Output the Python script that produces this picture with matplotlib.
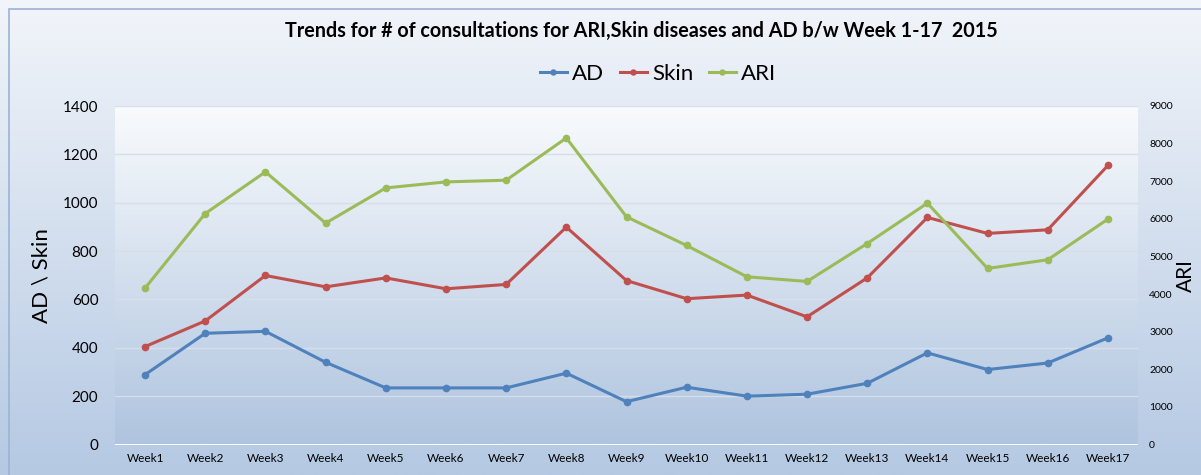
import matplotlib.pyplot as plt
import numpy as np
from matplotlib.colors import LinearSegmentedColormap
from matplotlib.patches import Rectangle

weeks = ["Week%d" % i for i in range(1, 18)]
ad = [289, 460, 468, 340, 234, 234, 234, 295, 177, 237, 200, 208, 253, 379, 310, 337, 441]
skin = [405, 511, 699, 652, 689, 644, 662, 899, 678, 603, 618, 528, 689, 939, 873, 888, 1154]
ari = [4160, 6141, 7248, 5885, 6822, 6982, 7027, 8150, 6053, 5291, 4460, 4335, 5344, 6417, 4681, 4912, 5992]

plt.rcParams['font.family'] = ['Lato', 'DejaVu Sans']

fig = plt.figure(figsize=(12.01, 4.75), dpi=100)

# outer chart background, light at top going to blue at the bottom
bg = fig.add_axes([0, 0, 1, 1], zorder=-5)
outer = LinearSegmentedColormap.from_list('outer', ['#f2f5fa', '#b5c9e3'])
bg.imshow(np.linspace(0, 1, 256).reshape(-1, 1), cmap=outer, aspect='auto',
          extent=[0, 1, 0, 1])
bg.add_patch(Rectangle((9 / 1201, -0.1), 1.2, 1 - 9 / 475 + 0.1, fill=False,
                       edgecolor='#9bb3d6', linewidth=1.2, transform=bg.transAxes))
bg.set_xlim(0, 1)
bg.set_ylim(0, 1)
bg.axis('off')

ax = fig.add_axes([115 / 1201, 1 - 444.5 / 475, (1138 - 115) / 1201, (444.5 - 106) / 475])
x = np.arange(len(weeks))

inner = LinearSegmentedColormap.from_list('inner', ['#f9fbfd', '#afc4df'])
ax.imshow(np.linspace(0, 1, 256).reshape(-1, 1), cmap=inner, aspect='auto',
          extent=[-0.5, len(weeks) - 0.5, 0, 1400], zorder=0)

ax.set_xlim(-0.5, len(weeks) - 0.5)
ax.set_ylim(0, 1400)
ax.set_yticks(range(0, 1401, 200))
for yv in range(200, 1401, 200):
    ax.axhline(yv, color='#d6dee9', linewidth=1, zorder=1)

l1, = ax.plot(x, ad, color='#4f81bd', linewidth=2.2, marker='o', markersize=4.5, zorder=3, label='AD')
l2, = ax.plot(x, skin, color='#c0504d', linewidth=2.2, marker='o', markersize=4.5, zorder=3, label='Skin')

ax2 = ax.twinx()
l3, = ax2.plot(x, ari, color='#9bbb59', linewidth=2.2, marker='o', markersize=4.5, zorder=3, label='ARI')
ax2.set_ylim(0, 9000)
ax2.set_yticks(range(0, 9001, 1000))

ax.set_xticks(x)
ax.set_xticklabels(weeks, fontsize=8.5)
ax.tick_params(axis='y', labelsize=11, length=0, pad=12)
ax.tick_params(axis='x', length=0, pad=6)
ax2.tick_params(axis='y', labelsize=7.5, length=0, pad=8)

for a in (ax, ax2):
    for s in a.spines.values():
        s.set_visible(False)

ax.set_ylabel('AD \\ Skin', fontsize=16, labelpad=8)
ax2.set_ylabel('ARI', fontsize=15)
ax2.yaxis.set_label_coords(1.037, 0.5)

fig.text(0.534, 0.935, 'Trends for # of consultations for ARI,Skin diseases and AD b/w Week 1-17  2015',
         ha='center', va='center', fontsize=14.2, fontweight='bold')
fig.legend(handles=[l1, l2, l3], loc='center', bbox_to_anchor=(0.548, 0.845), ncol=3,
           frameon=False, fontsize=16, handlelength=1.2, handletextpad=0.25, columnspacing=0.7,
           markerscale=0.8)

fig.savefig('out.png', dpi=100)
